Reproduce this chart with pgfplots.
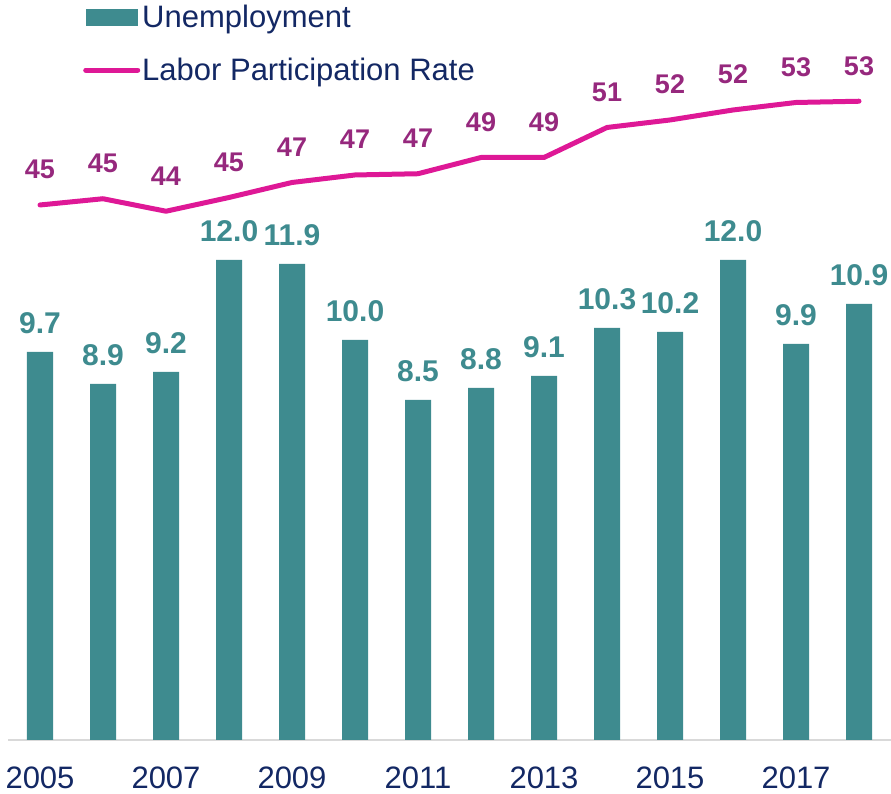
\documentclass[border=0pt]{standalone}
\usepackage{pgfplots}
\usepackage{pgfplotstable}
\pgfplotsset{compat=1.18}
\usepackage{fontspec}
\setmainfont{Liberation Sans}
\definecolor{tealbar}{RGB}{62,139,143}
\definecolor{magline}{RGB}{222,24,150}
\definecolor{labpurple}{RGB}{150,40,125}
\definecolor{navy}{RGB}{19,40,100}
\definecolor{axisgray}{RGB}{217,217,217}
\pgfplotstableread{
year unemp
2005 9.7
2006 8.9
2007 9.2
2008 12.0
2009 11.9
2010 10.0
2011 8.5
2012 8.8
2013 9.1
2014 10.3
2015 10.2
2016 12.0
2017 9.9
2018 10.9
}\bardata
\pgfplotstableread{
year lpr lab
2005 44.8 45
2006 45.3 45
2007 44.3 44
2008 45.4 45
2009 46.6 47
2010 47.2 47
2011 47.3 47
2012 48.6 49
2013 48.6 49
2014 51.0 51
2015 51.6 52
2016 52.4 52
2017 53.0 53
2018 53.1 53
}\linedata
\begin{document}
\begin{tikzpicture}
\path[use as bounding box] (-8.5pt,-54pt) rectangle (882.5pt,740pt);
\begin{axis}[
  width=882pt, height=740pt, scale only axis,
  xmin=2004.5, xmax=2018.5, ymin=0, ymax=18.5,
  axis x line*=bottom, axis y line=none,
  x axis line style={draw=axisgray, line width=1.5pt, -},
  xtick={2005,2007,...,2017}, major tick length=0pt,
  /pgf/number format/1000 sep={},
  /pgf/number format/assume math mode=true,
  xticklabel style={font=\fontsize{31}{37}\selectfont, text=navy, anchor=base, yshift=-49pt},
  ytick=\empty,
  legend style={draw=none, fill=none, at={(0.0845,0.996)}, anchor=north west,
    font=\fontsize{31}{37}\selectfont, text=navy, inner sep=0pt, row sep=25pt,
    cells={anchor=west}},
  legend cell align=left,
]
\addplot[ybar, bar width=26pt, fill=tealbar, draw=none,
  legend image code/.code={\fill[tealbar] (0pt,-8.5pt) rectangle (52pt,8.5pt);},
  nodes near coords={\pgfmathprintnumber[fixed,zerofill,precision=1]{\pgfplotspointmeta}},
  every node near coord/.append style={font=\bfseries\fontsize{30}{36}\selectfont, text=tealbar, anchor=base, yshift=18pt, /pgf/number format/assume math mode=true}]
  table[x=year, y=unemp] {\bardata};
\addlegendentry{Unemployment}
\addlegendimage{legend image code/.code={\draw[magline, line width=5pt, line cap=round] (0pt,0pt) -- (52pt,0pt);}}
\addlegendentry{Labor Participation Rate}
\end{axis}
\begin{axis}[
  width=882pt, height=740pt, scale only axis,
  xmin=2004.5, xmax=2018.5, ymin=2, ymax=61.2,
  hide axis,
]
\addplot[magline, line width=5pt, line join=round, line cap=round,
  nodes near coords, point meta=explicit symbolic,
  every node near coord/.append style={font=\bfseries\fontsize{27}{32}\selectfont, text=labpurple, anchor=base, yshift=26pt}]
  table[x=year, y=lpr, meta=lab] {\linedata};
\end{axis}
\end{tikzpicture}
\end{document}
